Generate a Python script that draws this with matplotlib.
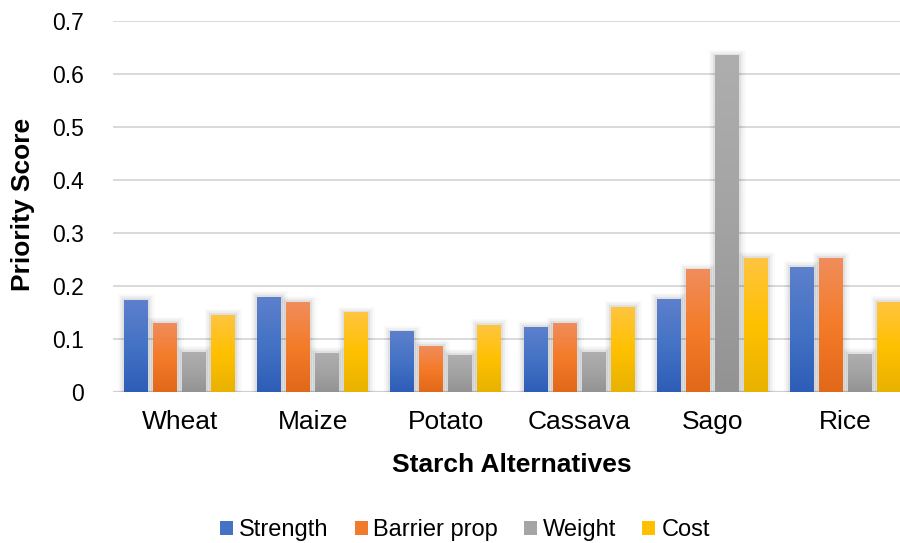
import numpy as np
import matplotlib
matplotlib.use("Agg")
import matplotlib.pyplot as plt
import matplotlib.patheffects as pe
from matplotlib.colors import LinearSegmentedColormap
from matplotlib.patches import Patch

plt.rcParams["font.family"] = ["Liberation Sans", "DejaVu Sans"]

# -------------------------------
# DATA
# -------------------------------

starches = ["Wheat", "Maize", "Potato", "Cassava", "Sago", "Rice"]
criteria = ["Strength", "Barrier prop", "Weight", "Cost"]

strength = [0.173, 0.179, 0.114, 0.122, 0.175, 0.235]
barrier_prop = [0.130, 0.169, 0.086, 0.130, 0.231, 0.252]
weight = [0.075, 0.073, 0.069, 0.075, 0.634, 0.071]
cost = [0.145, 0.150, 0.126, 0.160, 0.252, 0.169]

series = [strength, barrier_prop, weight, cost]

# top -> middle -> bottom shades for each series
gradients = [
    ["#5D80CC", "#4472C4", "#2E5DB8"],
    ["#F08D5C", "#F47B28", "#E2681A"],
    ["#AEAEAE", "#A3A3A3", "#939393"],
    ["#FFC540", "#FFC000", "#E8B200"],
]
legend_colors = ["#4472C4", "#F27A2E", "#A5A5A5", "#FFC000"]

# -------------------------------
# FIGURE
# -------------------------------

fig = plt.figure(figsize=(9, 5.43), dpi=100)
ax = fig.add_axes([113 / 900, 1 - 392 / 543, 799 / 900, 371 / 543])

x = np.arange(len(starches))
bar_w = 0.18
step = 0.218
offsets = (np.arange(len(criteria)) - 1.5) * step

glow = [
    pe.Stroke(linewidth=9, foreground="#000000", alpha=0.025),
    pe.Stroke(linewidth=6, foreground="#000000", alpha=0.04),
    pe.Stroke(linewidth=3, foreground="#000000", alpha=0.06),
    pe.Normal(),
]

for vals, shades, off in zip(series, gradients, offsets):
    cmap = LinearSegmentedColormap.from_list("g", shades[::-1])
    bars = ax.bar(x + off, vals, width=bar_w, color=shades[1],
                  linewidth=0, zorder=3, path_effects=glow)
    grad = np.linspace(0, 1, 256).reshape(-1, 1)
    for b in bars:
        x0, w, h = b.get_x(), b.get_width(), b.get_height()
        ax.imshow(grad, extent=[x0, x0 + w, 0, h], origin="lower",
                  cmap=cmap, aspect="auto", zorder=4, interpolation="bicubic")

ax.set_xlim(-0.5, len(starches) - 0.5)
ax.set_ylim(0, 0.7)
ax.set_yticks(np.arange(0, 0.71, 0.1))
ax.set_yticklabels(["0", "0.1", "0.2", "0.3", "0.4", "0.5", "0.6", "0.7"])
ax.set_xticks(x)
ax.set_xticklabels(starches)

ax.grid(axis="y", color="#D9D9D9", linewidth=1.4, zorder=0)
ax.axhline(0, color="#D0D0D0", linewidth=1.6, zorder=2)
for s in ax.spines.values():
    s.set_visible(False)
ax.tick_params(axis="both", length=0, colors="#000000")
ax.tick_params(axis="y", pad=21, labelsize=16.5)
ax.tick_params(axis="x", pad=13, labelsize=19)

fig.text(23 / 900, 1 - 204 / 543, "Priority Score", rotation=90,
         ha="center", va="center", fontsize=19, fontweight="bold")
fig.text(512 / 900, 1 - 471.7 / 543, "Starch Alternatives",
         ha="center", va="baseline", fontsize=19, fontweight="bold")

handles = [Patch(facecolor=c, edgecolor="none") for c in legend_colors]
fig.legend(handles, criteria, loc="center", ncol=4,
           bbox_to_anchor=(465 / 900, 1 - 530 / 543), frameon=False,
           fontsize=17, handlelength=0.55, handleheight=0.55,
           handletextpad=0.25, columnspacing=1.1, borderaxespad=0)

plt.savefig("out.png", dpi=100)
plt.close()
